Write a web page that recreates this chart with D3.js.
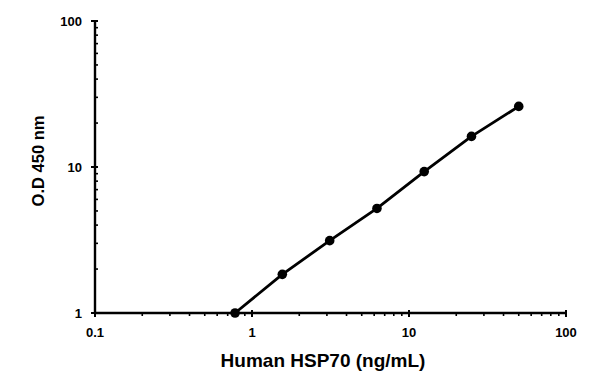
<!DOCTYPE html>
<html><head><meta charset="utf-8">
<script src="https://cdn.jsdelivr.net/npm/d3@7"></script>
<style>body{margin:0;background:#fff}svg{display:block}</style>
</head><body>
<svg id="c" width="600" height="383"></svg>
<script>
const concentrations = [0.78, 1.56, 3.125, 6.25, 12.5, 25, 50];
const odValues = [1.0, 1.84, 3.13, 5.2, 9.3, 16.2, 26.0];
const xTicks = [0.1, 1, 10, 100];
const yTicks = [1, 10, 100];
const xLabels = ["0.1", "1", "10", "100"];
const yLabels = ["1", "10", "100"];

const svg = d3.select("#c");
const x = d3.scaleLog().domain([0.1, 100]).range([95, 566]);
const y = d3.scaleLog().domain([1, 100]).range([313, 21]);
const font = "'Liberation Sans', Arial, sans-serif";

function minorTicks(dom){
  const t=[];
  for(let d=dom[0]; d<dom[1]; d*=10){ for(let k=2;k<=9;k++) t.push(d*k); }
  return t;
}

// X axis
const gx = svg.append("g").attr("transform", `translate(0,${y(1)})`);
gx.append("line").attr("x1", x(0.1)).attr("x2", x(100)).attr("stroke", "#000").attr("stroke-width", 2.4);
gx.selectAll(".mj").data(xTicks).enter().append("line")
  .attr("x1", d=>x(d)).attr("x2", d=>x(d)).attr("y1", -3).attr("y2", 4).attr("stroke","#000").attr("stroke-width",2);
gx.selectAll(".mn").data(minorTicks([0.1,100])).enter().append("line")
  .attr("x1", d=>x(d)).attr("x2", d=>x(d)).attr("y1", 0).attr("y2", 3).attr("stroke","#000").attr("stroke-width",1.6);
gx.selectAll("text").data(xTicks).enter().append("text")
  .attr("x", d=>x(d)).attr("y", 24).attr("text-anchor","middle")
  .attr("font-family", font).attr("font-weight","bold").attr("font-size", 13)
  .text((d,i)=>xLabels[i]);

// Y axis
const gy = svg.append("g").attr("transform", `translate(${x(0.1)},0)`);
gy.append("line").attr("y1", y(1)).attr("y2", y(100)).attr("stroke", "#000").attr("stroke-width", 2.4);
gy.selectAll(".mj").data(yTicks).enter().append("line")
  .attr("y1", d=>y(d)).attr("y2", d=>y(d)).attr("x1", -4).attr("x2", 3).attr("stroke","#000").attr("stroke-width",2);
gy.selectAll(".mn").data(minorTicks([1,100])).enter().append("line")
  .attr("y1", d=>y(d)).attr("y2", d=>y(d)).attr("x1", 0).attr("x2", 3).attr("stroke","#000").attr("stroke-width",1.6);
gy.selectAll("text").data(yTicks).enter().append("text")
  .attr("x", -13).attr("y", d=>y(d)+4.7).attr("text-anchor","end")
  .attr("font-family", font).attr("font-weight","bold").attr("font-size", 13)
  .text((d,i)=>yLabels[i]);

// Line and points
const line = d3.line().x((d,i)=>x(concentrations[i])).y(d=>y(d));
svg.append("path").datum(odValues).attr("d", line).attr("fill","none")
  .attr("stroke","#000").attr("stroke-width",2.8).attr("stroke-linejoin","round");
svg.selectAll(".pt").data(odValues).enter().append("circle")
  .attr("cx",(d,i)=>x(concentrations[i])).attr("cy", d=>y(d)).attr("r",4.8).attr("fill","#000");

// Titles
svg.append("text").attr("x", 323).attr("y", 367).attr("text-anchor","middle")
  .attr("font-family", font).attr("font-weight","bold").attr("font-size", 19)
  .text("Human HSP70 (ng/mL)");
svg.append("text").attr("transform","translate(44,161) rotate(-90)").attr("text-anchor","middle")
  .attr("font-family", font).attr("font-weight","bold").attr("font-size", 16.5)
  .text("O.D 450 nm");
</script>
</body></html>
